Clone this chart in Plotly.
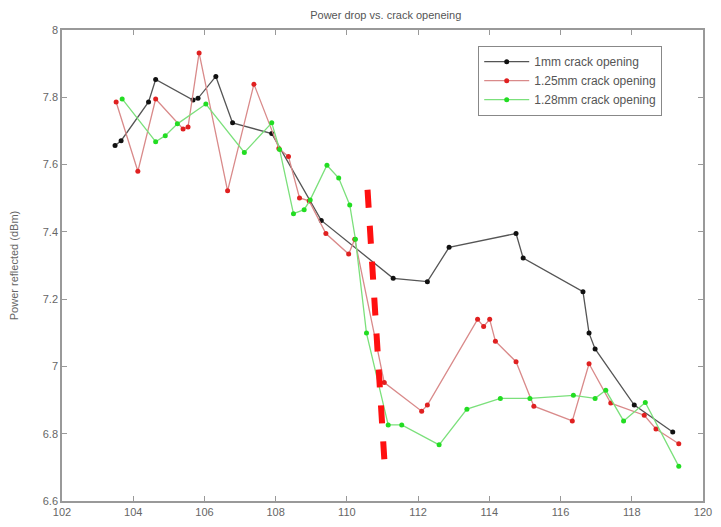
import plotly.graph_objects as go

# --- data ---
x_1mm = [103.49, 103.66, 104.43, 104.63, 105.68, 105.82, 106.32, 106.79, 107.89,
         109.28, 111.30, 112.26, 112.87, 114.75, 114.95, 116.63, 116.80, 116.97,
         118.07, 119.15]
y_1mm = [7.657, 7.671, 7.786, 7.853, 7.792, 7.797, 7.862, 7.724, 7.692,
         7.434, 7.262, 7.252, 7.354, 7.395, 7.322, 7.222, 7.099, 7.052,
         6.885, 6.805]

x_125 = [103.52, 104.13, 104.63, 105.40, 105.54, 105.85, 106.65, 107.39, 108.09,
         108.36, 108.67, 108.94, 109.41, 110.05, 110.22, 111.05, 112.10, 112.26,
         113.67, 113.84, 114.01, 114.17, 114.75, 115.25, 116.33, 116.80, 117.41,
         118.35, 118.68, 119.32]
y_125 = [7.786, 7.580, 7.795, 7.706, 7.712, 7.932, 7.522, 7.839, 7.648,
         7.624, 7.501, 7.492, 7.395, 7.334, 7.378, 6.952, 6.867, 6.885,
         7.140, 7.119, 7.140, 7.075, 7.014, 6.882, 6.838, 7.008, 6.891,
         6.855, 6.814, 6.770]

x_128 = [103.69, 104.63, 104.90, 105.24, 106.04, 107.12, 107.89, 108.11, 108.50,
         108.80, 108.97, 109.44, 109.77, 110.08, 110.24, 110.55, 111.16, 111.54,
         112.59, 113.37, 114.31, 115.14, 116.36, 116.97, 117.27, 117.77, 118.38,
         119.32]
y_128 = [7.795, 7.668, 7.686, 7.721, 7.780, 7.636, 7.724, 7.645, 7.454,
         7.466, 7.495, 7.598, 7.560, 7.480, 7.378, 7.099, 6.826, 6.826,
         6.767, 6.873, 6.905, 6.905, 6.914, 6.905, 6.929, 6.838, 6.893,
         6.703]

cut_x = [110.58, 111.08]
cut_y = [7.525, 6.675]

series_names = ["1mm crack opening", "1.25mm crack opening", "1.28mm crack opening"]
x_ticks = [102, 104, 106, 108, 110, 112, 114, 116, 118, 120]
y_ticks = [6.6, 6.8, 7.0, 7.2, 7.4, 7.6, 7.8, 8.0]
y_tick_text = ["6.6", "6.8", "7", "7.2", "7.4", "7.6", "7.8", "8"]

fig = go.Figure()
styles = [("#555555", "#111111"), ("#d98a8a", "#e02020"), ("#7be07b", "#22dd22")]
for (xs, ys), name, (lc, mc) in zip([(x_1mm, y_1mm), (x_125, y_125), (x_128, y_128)],
                                    series_names, styles):
    fig.add_trace(go.Scatter(x=xs, y=ys, mode="lines+markers", name=name,
                             line=dict(color=lc, width=1.3),
                             marker=dict(color=mc, size=5, symbol="circle")))

fig.add_trace(go.Scatter(x=cut_x, y=cut_y, mode="lines", showlegend=False,
                         line=dict(color="#ff1010", width=6, dash="dash")))

axis_common = dict(showline=True, linecolor="#999999", linewidth=1.5, mirror="ticks",
                   ticks="inside", ticklen=5, tickcolor="#999999", showgrid=False,
                   zeroline=False, tickfont=dict(family="Liberation Sans", size=11, color="#666666"))

fig.update_layout(
    width=721, height=527,
    margin=dict(l=62, r=9, t=30, b=20),
    paper_bgcolor="white", plot_bgcolor="white",
    title=dict(text="Power drop vs. crack openeing", x=0.535, xanchor="center", y=0.972,
               yanchor="middle", font=dict(family="Liberation Sans", size=11, color="#555555")),
    xaxis=dict(range=[102, 120], tickvals=x_ticks, **axis_common),
    yaxis=dict(range=[6.6, 8.0], tickvals=y_ticks, ticktext=y_tick_text,
               title=dict(text="Power reflected (dBm)", standoff=22,
                          font=dict(family="Liberation Sans", size=11, color="#666666")),
               **axis_common),
    legend=dict(x=0.649, y=0.966, xanchor="left", yanchor="top",
                bgcolor="white", bordercolor="#888888", borderwidth=1.2,
                font=dict(family="Liberation Sans", size=12, color="#555555"),
                itemwidth=45, tracegroupgap=0),
    showlegend=True,
)

fig.write_html("out.html")
